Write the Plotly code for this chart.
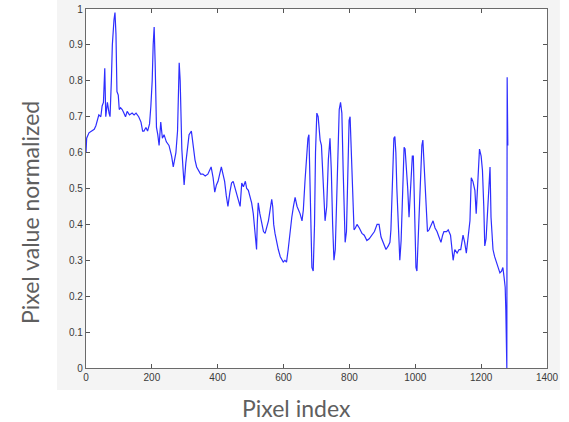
import plotly.graph_objects as go

# Pixel index (x) and normalized pixel value (y)
pixel_index = [
    0, 2, 9, 18, 25, 30, 39, 45, 49, 53, 57, 60, 65, 70, 73, 77, 80, 85, 88, 91,
    94, 98, 101, 105, 110, 115, 120, 125, 132, 140, 146, 152, 160, 167, 172, 176, 182, 187, 193, 197,
    201, 204, 207, 210, 214, 218, 222, 227, 232, 237, 244, 252, 260, 265, 268, 273, 278, 281, 283, 286,
    289, 291, 295, 298, 303, 309, 313, 320, 325, 331, 336, 341, 348, 355, 362, 370, 375, 380, 386, 391,
    396, 401, 406, 411, 416, 421, 426, 431, 437, 442, 447, 452, 457, 462, 468, 473, 478, 484, 488, 493,
    498, 503, 508, 512, 516, 518, 520, 523, 528, 534, 539, 544, 549, 554, 559, 564, 567, 570, 574, 579,
    584, 590, 595, 599, 604, 609, 614, 620, 625, 630, 635, 641, 646, 650, 656, 660, 665, 670, 674, 677,
    680, 683, 686, 690, 694, 697, 701, 705, 708, 711, 715, 720, 726, 731, 736, 741, 745, 749, 753, 757,
    761, 765, 769, 773, 777, 781, 785, 787, 791, 795, 799, 802, 805, 808, 811, 814, 818, 823, 830, 838,
    845, 853, 860, 868, 876, 884, 890, 896, 903, 911, 918, 923, 926, 930, 935, 938, 941, 944, 948, 953,
    957, 962, 966, 969, 972, 977, 981, 985, 991, 994, 998, 1002, 1005, 1010, 1016, 1020, 1023, 1027, 1032, 1037,
    1042, 1048, 1054, 1060, 1066, 1072, 1078, 1083, 1087, 1095, 1100, 1107, 1112, 1115, 1120, 1127, 1133, 1138, 1145, 1150,
    1155, 1160, 1166, 1170, 1175, 1181, 1185, 1190, 1195, 1200, 1204, 1208, 1211, 1215, 1220, 1224, 1227, 1230, 1236, 1241,
    1245, 1251, 1257, 1262, 1266, 1270, 1273, 1275, 1277, 1278, 1279, 1280, 1281,
]
pixel_value = [
    0.60, 0.64, 0.655, 0.66, 0.665, 0.675, 0.705, 0.70, 0.73, 0.74, 0.835, 0.70, 0.74, 0.71, 0.70, 0.80, 0.90, 0.97, 0.99, 0.93,
    0.77, 0.76, 0.72, 0.725, 0.72, 0.71, 0.70, 0.715, 0.705, 0.71, 0.705, 0.71, 0.70, 0.685, 0.66, 0.66, 0.67, 0.66, 0.68, 0.73,
    0.80, 0.90, 0.95, 0.85, 0.67, 0.65, 0.62, 0.685, 0.64, 0.65, 0.63, 0.62, 0.59, 0.56, 0.58, 0.60, 0.66, 0.78, 0.85, 0.80,
    0.65, 0.61, 0.55, 0.51, 0.57, 0.62, 0.65, 0.66, 0.62, 0.58, 0.56, 0.55, 0.54, 0.54, 0.535, 0.54, 0.55, 0.56, 0.53, 0.49,
    0.51, 0.52, 0.54, 0.56, 0.54, 0.52, 0.48, 0.45, 0.49, 0.515, 0.52, 0.505, 0.49, 0.475, 0.45, 0.515, 0.505, 0.52, 0.50, 0.495,
    0.48, 0.46, 0.43, 0.39, 0.34, 0.33, 0.40, 0.46, 0.43, 0.40, 0.38, 0.375, 0.39, 0.41, 0.44, 0.47, 0.45, 0.40, 0.375, 0.35,
    0.33, 0.31, 0.30, 0.295, 0.30, 0.295, 0.33, 0.39, 0.42, 0.45, 0.475, 0.45, 0.44, 0.43, 0.41, 0.44, 0.52, 0.60, 0.64, 0.65,
    0.55, 0.40, 0.28, 0.27, 0.40, 0.60, 0.71, 0.70, 0.66, 0.635, 0.62, 0.50, 0.41, 0.45, 0.58, 0.64, 0.55, 0.40, 0.30, 0.33,
    0.45, 0.60, 0.72, 0.74, 0.71, 0.55, 0.40, 0.35, 0.38, 0.55, 0.69, 0.70, 0.62, 0.52, 0.45, 0.385, 0.39, 0.40, 0.39, 0.375,
    0.37, 0.355, 0.36, 0.37, 0.38, 0.40, 0.40, 0.365, 0.35, 0.33, 0.34, 0.35, 0.385, 0.50, 0.64, 0.645, 0.60, 0.50, 0.40, 0.30,
    0.355, 0.50, 0.615, 0.61, 0.57, 0.50, 0.42, 0.50, 0.59, 0.59, 0.45, 0.28, 0.27, 0.40, 0.55, 0.62, 0.635, 0.56, 0.49, 0.38,
    0.385, 0.40, 0.41, 0.39, 0.38, 0.365, 0.35, 0.37, 0.38, 0.38, 0.385, 0.37, 0.33, 0.30, 0.33, 0.32, 0.33, 0.33, 0.37, 0.35,
    0.32, 0.36, 0.41, 0.53, 0.52, 0.495, 0.43, 0.52, 0.61, 0.59, 0.55, 0.45, 0.34, 0.36, 0.45, 0.53, 0.56, 0.42, 0.33, 0.31,
    0.30, 0.28, 0.265, 0.27, 0.28, 0.25, 0.225, 0.16, 0.05, 0.0, 0.81, 0.70, 0.62,
]

x_ticks = [0, 200, 400, 600, 800, 1000, 1200, 1400]
y_ticks = [0, 0.1, 0.2, 0.3, 0.4, 0.5, 0.6, 0.7, 0.8, 0.9, 1]
y_tick_text = ["0", "0.1", "0.2", "0.3", "0.4", "0.5", "0.6", "0.7", "0.8", "0.9", "1"]
x_title = "Pixel index"
y_title = "Pixel value normalized"

fig = go.Figure()
fig.add_trace(go.Scatter(
    x=pixel_index, y=pixel_value, mode="lines",
    line=dict(color="#2e2eff", width=1.2),
    showlegend=False, hoverinfo="skip",
))

tick_font = dict(family="Liberation Sans, Arial, sans-serif", size=10, color="#3a3a3a")
title_font = dict(family="Lato, Open Sans, sans-serif", size=23, color="#5f5f5f")

fig.update_layout(
    template="none",
    width=569, height=422,
    margin=dict(l=86, r=22, t=9, b=54),
    paper_bgcolor="white",
    plot_bgcolor="white",
    shapes=[
        dict(type="rect", xref="paper", yref="paper",
             x0=-0.063, x1=1.028, y0=-0.061, y1=1.03,
             fillcolor="#f4f4f4", line=dict(width=0), layer="below"),
        dict(type="rect", xref="paper", yref="paper",
             x0=0, x1=1, y0=0, y1=1,
             fillcolor="white", line=dict(width=0), layer="below"),
    ],
    annotations=[
        dict(text=y_title, xref="paper", yref="paper", x=-0.1215, y=0.4345,
             textangle=-90, showarrow=False, font=title_font,
             xanchor="center", yanchor="middle"),
        dict(text=x_title, xref="paper", yref="paper", x=0.4577, y=-0.1114,
             showarrow=False, font=title_font,
             xanchor="center", yanchor="middle"),
    ],
    xaxis=dict(
        range=[0, 1400], tickvals=x_ticks, ticks="inside", ticklen=4,
        tickcolor="#555", showline=True, linecolor="#6a6a6a", linewidth=1.2,
        mirror="ticks", showgrid=False, zeroline=False, tickfont=tick_font,
        automargin=False,
    ),
    yaxis=dict(
        range=[0, 1], tickvals=y_ticks, ticktext=y_tick_text, ticks="inside", ticklen=4,
        tickcolor="#555", showline=True, linecolor="#6a6a6a", linewidth=1.2,
        mirror="ticks", showgrid=False, zeroline=False, tickfont=tick_font,
        automargin=False,
    ),
)

fig.write_html(
    "out.html",
    config={"displayModeBar": False},
    post_script="document.body.style.margin='0';document.body.style.overflow='hidden';",
)
